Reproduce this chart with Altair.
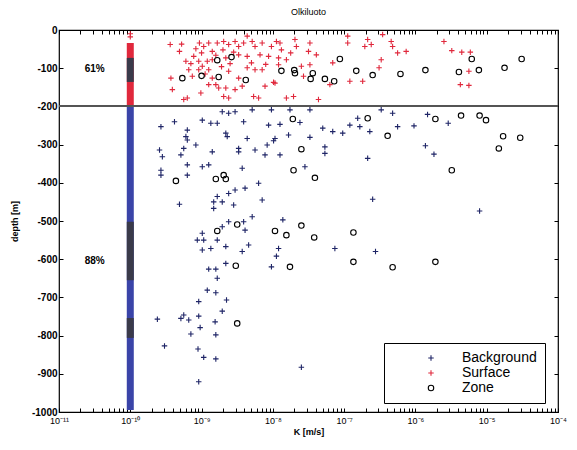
import json
import altair as alt
import pandas as pd

# ---------------- data ----------------
# log10 of hydraulic conductivity K [m/s] and depth [m]
surface_logK = [-9.44, -9.28, -9.31, -9.08, -9.03, -8.97, -8.90, -8.85, -8.78, -8.69, -8.62, -8.53, -8.48, -8.41,
                -8.29, -8.25, -8.15, -8.36, -8.02, -7.95, -9.22, -9.11, -9.04, -8.99, -8.92, -8.85, -8.66, -8.48,
                -8.36, -8.18, -8.06, -9.04, -8.90, -9.18, -9.43, -9.13, -8.85, -8.62, -8.36, -8.25, -8.15, -8.48,
                -9.41, -9.25, -9.20, -9.01, -8.90, -8.76, -8.66, -8.62, -8.53, -8.43, -8.27, -8.20, -8.11, -7.97,
                -8.69, -8.80, -7.90, -7.88, -7.69, -7.67, -7.48, -7.50, -7.39, -7.92, -7.81, -7.48, -7.16, -6.95,
                -6.95, -6.67, -6.62, -6.71, -6.46, -6.34, -6.32, -6.25, -6.13, -6.48, -6.51, -6.92, -6.74, -7.99,
                -7.57, -7.81, -7.71, -7.36, -7.20, -7.92, -5.60, -5.49, -5.35, -5.23, -5.25, -5.37, -5.25,
                -10.0, -10.0, -9.00, -8.70, -8.55, -8.80, -8.60, -8.95, -8.72, -9.15, -8.30, -8.10, -7.75, -7.60]
surface_depth = [-38, -37, -56, -49, -34, -43, -34, -56, -34, -30, -38, -30, -43, -34,
                 -30, -43, -34, -16, -43, -30, -82, -69, -82, -95, -82, -78, -73, -65,
                 -69, -65, -69, -104, -104, -104, -126, -121, -126, -108, -99, -104, -104, -126,
                 -156, -182, -178, -165, -143, -152, -152, -178, -156, -147, -174, -178, -147, -139,
                 -174, -143, -34, -52, -25, -43, -34, -56, -65, -73, -78, -91, -86, -16,
                 -34, -25, -38, -43, -12, -30, -43, -60, -56, -78, -99, -134, -134, -137,
                 -121, -178, -174, -182, -143, -91, -30, -54, -58, -58, -108, -143, -145,
                 -10, -18, -60, -52, -58, -66, -88, -115, -96, -88, -86, -90, -60, -95]

background_logK = [-9.57, -9.38, -9.20, -9.22, -9.20, -9.08, -9.25, -8.99, -8.87, -8.78, -8.66, -8.64, -8.71,
                   -8.62, -8.53, -8.29, -8.41, -8.36, -8.06, -8.02, -7.97, -8.08, -8.11, -8.25, -8.48, -8.48,
                   -8.85, -9.29, -9.59, -9.55, -9.20, -9.20, -8.99, -8.90, -9.57, -9.57, -8.43, -8.62, -8.53,
                   -8.39, -8.20, -8.15, -8.55, -8.71, -8.83, -8.78, -8.83, -9.31, -8.29, -8.41, -8.62, -8.71,
                   -8.39, -8.99, -9.06, -8.97, -8.78, -8.66, -8.87, -8.99, -8.34, -8.43, -8.90, -8.80, -8.66,
                   -8.78, -8.92, -8.80, -9.04, -8.65, -8.71, -9.04, -9.25, -9.18, -9.29, -9.62, -8.81, -9.02,
                   -9.15, -8.80, -9.52, -9.05, -8.97, -8.80, -9.04, -8.02, -7.95, -7.60, -7.90, -7.78, -7.99,
                   -7.62, -7.48, -7.30, -7.16, -7.02, -6.92, -6.78, -6.81, -6.64, -6.48, -6.32, -6.25, -6.02,
                   -5.83, -5.54, -5.86, -5.74, -6.67, -7.27, -7.27, -7.55, -7.90, -6.60, -5.10, -7.86, -7.92,
                   -7.13, -6.56, -7.76, -7.48]
background_depth = [-253, -240, -262, -279, -288, -301, -310, -236, -244, -244, -270, -279, -214,
                    -218, -214, -209, -240, -284, -249, -209, -284, -301, -327, -314, -319, -310,
                    -319, -327, -314, -332, -353, -380, -358, -353, -367, -380, -362, -428, -419,
                    -414, -401, -445, -458, -450, -450, -436, -467, -456, -489, -502, -502, -515,
                    -524, -532, -550, -550, -550, -567, -572, -576, -563, -580, -626, -626, -611,
                    -650, -681, -688, -711, -707, -736, -749, -746, -759, -755, -757, -764, -779,
                    -796, -798, -827, -835, -857, -861, -921, -620, -592, -883, -247, -275, -290,
                    -242, -281, -257, -266, -270, -249, -253, -231, -266, -209, -218, -253, -251,
                    -221, -244, -303, -325, -336, -306, -323, -358, -327, -443, -474, -497, -572,
                    -572, -580, -209, -209]

zone_logK = [-9.27, -9.00, -8.76, -8.78, -8.58, -8.38, -7.88, -7.70, -7.69, -7.44, -7.47, -7.27, -7.14,
             -7.06, -6.83, -6.60, -6.21, -5.86, -5.39, -5.11, -5.21, -4.75, -4.51,
             -9.36, -8.80, -8.69, -8.66, -8.78, -8.50, -7.97, -8.52, -7.76, -8.50, -7.72, -6.67, -6.39,
             -5.72, -5.36, -5.10, -5.01, -4.77, -4.53, -4.83, -7.60, -5.49, -7.71, -7.41, -7.81, -7.60,
             -7.42, -6.87, -6.87, -6.32, -5.72]
zone_depth = [-126, -120, -123, -79, -71, -131, -107, -105, -113, -113, -128, -128, -134,
              -76, -107, -118, -115, -105, -110, -105, -76, -99, -76,
              -395, -390, -380, -390, -526, -509, -526, -617, -620, -768, -233, -231, -277,
              -233, -224, -224, -236, -278, -282, -310, -312, -367, -367, -387, -537, -512,
              -543, -530, -607, -621, -607]

# measurements at the detection limit (vertical column at K = 1e-10)
detection_limit_logK = -10
column_type = ["Surface", "Background", "Zone", "Zone", "Zone"]
column_top = [-34, -200, -73, -502, -754]
column_bottom = [-200, -995, -136, -655, -806]

boundary_depth = -200
pct_labels = ["61%", "88%"]
pct_depth = [-102, -606]
pct_logK = -10.5

categories = ["Background", "Surface", "Zone"]
x_exponents = [-11, -10, -9, -8, -7, -6, -5, -4]
x_tick_labels = ["10⁻¹¹", "10⁻¹⁰", "10⁻⁹", "10⁻⁸", "10⁻⁷", "10⁻⁶", "10⁻⁵", "10⁻⁴"]
minor_multipliers = [2, 3, 4, 5, 6, 7, 8, 9]
y_ticks = [-1000, -900, -800, -700, -600, -500, -400, -300, -200, -100, 0]

# ---------------- tables ----------------
rows = []
for t, ks, ds in [("Background", background_logK, background_depth),
                  ("Surface", surface_logK, surface_depth),
                  ("Zone", zone_logK, zone_depth)]:
    for k, d in zip(ks, ds):
        rows.append({"type": t, "K": 10.0 ** k, "depth": d})
points = pd.DataFrame(rows)

column = pd.DataFrame({"ctype": column_type, "top": column_top, "bottom": column_bottom,
                       "K": [10.0 ** detection_limit_logK] * len(column_type)})
pct = pd.DataFrame({"label": pct_labels, "depth": pct_depth, "K": [10.0 ** pct_logK] * len(pct_labels)})

x_values = []
for e in x_exponents:
    x_values.append(10.0 ** e)
    if e < x_exponents[-1]:
        for m in minor_multipliers:
            x_values.append(m * 10.0 ** e)

is_major = "abs(log(datum.value)/LN10 - round(log(datum.value)/LN10)) < 0.001"
x_label_expr = (f"{is_major} ? {json.dumps(x_tick_labels, ensure_ascii=False)}"
                f"[round(log(datum.value)/LN10) + 11] : ''")

FONT = "Liberation Sans"
xscale = alt.Scale(type="log", domain=[1e-11, 1e-4], nice=False)
yscale = alt.Scale(domain=[-1000, 0], nice=False, zero=False)
plus = "M-1,0H1M0,-1V1"

# ---------------- layers ----------------
col_colors = {"Background": "#3a44a8", "Surface": "#e0283c", "Zone": "#3a3a4a"}
col_layers = []
for i, ct in enumerate(["Surface", "Background", "Zone"]):
    if i == 0:
        xa = alt.Axis(orient="top", values=x_values, labels=False, tickSize=4, offset=-4,
                      domain=False, grid=False, title=None, tickColor="black")
        ya = alt.Axis(orient="right", values=y_ticks, labels=False, tickSize=4, offset=-4,
                      domain=False, grid=False, title=None, tickColor="black")
    else:
        xa = None
        ya = None
    col_layers.append(
        alt.Chart(column).transform_filter(alt.datum.ctype == ct)
        .mark_rule(strokeWidth=7, strokeCap="butt", color=col_colors[ct])
        .encode(
            x=alt.X("K:Q", scale=xscale, axis=xa),
            y=alt.Y("top:Q", scale=yscale, axis=ya),
            y2="bottom:Q",
        )
    )

line_layer = alt.Chart(points).mark_rule(color="#555555", strokeWidth=1.2).encode(
    y=alt.datum(boundary_depth, scale=yscale, axis=None),
)

pts_layer = alt.Chart(points).mark_point(filled=False, opacity=1).encode(
    x=alt.X("K:Q", scale=xscale,
            axis=alt.Axis(orient="bottom", values=x_values, labelExpr=x_label_expr, labelOverlap=False,
                          labelFlush=False, tickSize=4, offset=-4, domain=False, grid=False,
                          title="K [m/s]", titleFont=FONT, titleFontSize=9, titleFontWeight="bold",
                          titlePadding=2, labelFont=FONT, labelFontSize=9, labelPadding=4,
                          labelColor="black", tickColor="black")),
    y=alt.Y("depth:Q", scale=yscale,
            axis=alt.Axis(orient="left", values=y_ticks, labelExpr="'' + datum.value", tickSize=4,
                          offset=-4, domain=False, grid=False, title="depth [m]", titleFont=FONT,
                          titleFontSize=9, titleFontWeight="bold", titlePadding=12, labelFont=FONT,
                          labelFontSize=10, labelFontWeight="bold", labelPadding=2,
                          labelColor="black", tickColor="black")),
    color=alt.Color("type:N", scale=alt.Scale(domain=categories, range=["#1e2466", "#e0283c", "#000000"]),
                    legend=alt.Legend(title=None)),
    shape=alt.Shape("type:N", scale=alt.Scale(domain=categories, range=[plus, plus, "circle"]),
                    legend=alt.Legend(title=None)),
    size=alt.Size("type:N", scale=alt.Scale(domain=categories, range=[30, 30, 55]), legend=None),
    strokeWidth=alt.StrokeWidth("type:N", scale=alt.Scale(domain=categories, range=[1.1, 1.1, 1.7]),
                                legend=None),
)

txt_layer = alt.Chart(pct).mark_text(font=FONT, fontSize=10, fontWeight="bold", color="black").encode(
    x=alt.X("K:Q", scale=xscale, axis=None),
    y=alt.Y("depth:Q", scale=yscale, axis=None),
    text="label:N",
)

chart = alt.layer(*col_layers, line_layer, pts_layer, txt_layer).resolve_axis(
    x="independent", y="independent"
).properties(
    width=499, height=382,
    title=alt.TitleParams("Olkiluoto", font=FONT, fontSize=9, fontWeight="normal", offset=8, color="black"),
    autosize=alt.AutoSizeParams(type="none"),
    padding={"left": 51, "top": 22, "right": 11, "bottom": 28},
).configure_view(
    stroke="black", strokeWidth=1.2
).configure_legend(
    orient="none", legendX=325, legendY=313, strokeColor="black", fillColor="white",
    padding=8, labelFont=FONT, labelFontSize=14, labelColor="black", symbolSize=30,
    symbolStrokeWidth=1.3, symbolOffset=32, labelOffset=24, rowPadding=1,
)

chart.save("out.html", embed_options={"renderer": "svg", "actions": False})
